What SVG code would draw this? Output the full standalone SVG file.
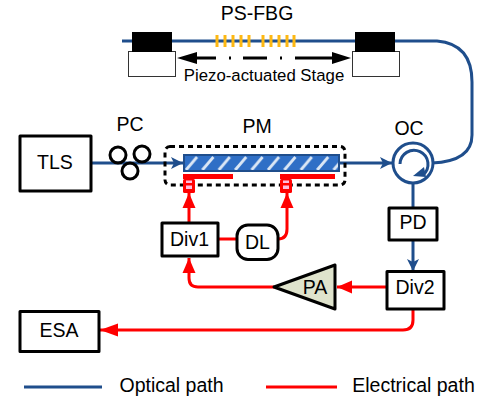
<svg xmlns="http://www.w3.org/2000/svg" width="485" height="403" viewBox="0 0 485 403">
<style>
text{font-family:"Liberation Sans",Arial,sans-serif;font-size:19.5px;fill:#000;text-anchor:middle}
.box{fill:#fff;stroke:#000;stroke-width:3;stroke-linejoin:round}
.opt{fill:none;stroke:#1f4e8c;stroke-width:3}
.ele{fill:none;stroke:#f00;stroke-width:3}
.stage{fill:#fff;stroke:#333;stroke-width:1}
.fbg{stroke:#fdb813;stroke-width:3}
.pc{fill:none;stroke:#000;stroke-width:3}
</style>
<defs>
<marker id="ab" markerUnits="userSpaceOnUse" markerWidth="14" markerHeight="14" refX="12" refY="7" orient="auto"><path d="M0 1L12 7L0 13L3 7Z" fill="#1f4e8c"/></marker>
<marker id="ar" markerUnits="userSpaceOnUse" markerWidth="16" markerHeight="14" refX="15" refY="7" orient="auto"><path d="M0 0.5L15 7L0 13.5Z" fill="#f00"/></marker>
<marker id="ar2" markerUnits="userSpaceOnUse" markerWidth="19" markerHeight="14" refX="18" refY="7" orient="auto"><path d="M0 0.5L18 7L0 13.5Z" fill="#f00"/></marker>
<pattern id="hatch" width="16.4" height="17" patternUnits="userSpaceOnUse" patternTransform="translate(184 154)"><rect width="16.4" height="17" fill="#2f6fc6"/><path d="M2 16L13 3" stroke="#dbe7f5" stroke-width="2.8"/></pattern>
</defs>
<g id="connectors">
<path class="opt" d="M122 41H437Q472 44 472 82V135C472 155 455 162 432 163"/>
<path class="opt" d="M91 163H183" marker-end="url(#ab)"/>
<path class="opt" d="M339 163H392" marker-end="url(#ab)"/>
<path class="opt" d="M413 183V208"/>
<path class="opt" d="M413 240V271" marker-end="url(#ab)"/>
<path class="ele" d="M387 287H337" marker-end="url(#ar)"/>
<path class="ele" d="M274 287H198Q189 287 189 278V258" marker-end="url(#ar)"/>
<path class="ele" d="M189 223V193" marker-end="url(#ar)"/>
<path class="ele" d="M218 239H237"/>
<path class="ele" d="M278 239Q287 239 287 229V193" marker-end="url(#ar)"/>
<path class="ele" d="M413 309V320Q413 330 403 330H100" marker-end="url(#ar2)"/>
</g>
<g id="stage-left"><rect class="stage" x="128.500" y="51.500" width="47" height="25"/><rect x="132" y="32" width="40" height="20" fill="#000"/></g>
<g id="stage-right"><rect class="stage" x="352.500" y="51.500" width="47" height="25"/><rect x="355" y="32" width="40" height="20" fill="#000"/></g>
<g id="ps-fbg">
<path class="fbg" d="M217 35V47M225 35V47M233 35V47M241 35V47M249 35V47M263 35V47M271 35V47M279 35V47M287 35V47M294 35V47"/>
<text x="257" y="20">PS-FBG</text>
</g>
<g id="stage-arrow">
<path d="M177 58L197 52V64Z M351 58L332 52V64Z" fill="#000"/>
<path d="M196 58H216M229 58H231M243 58H267M280 58H282M295 58H333" stroke="#000" stroke-width="3" fill="none"/>
<text x="264" y="81" style="font-size:16.800px">Piezo-actuated Stage</text>
</g>
<g id="tls"><rect class="box" x="20" y="136" width="71" height="55"/><text x="55" y="169">TLS</text></g>
<g id="pc">
<circle class="pc" cx="118" cy="155" r="8"/>
<circle class="pc" cx="142" cy="154" r="8"/>
<circle class="pc" cx="130" cy="171" r="8"/>
<text x="130" y="131">PC</text>
</g>
<g id="pm">
<rect x="165" y="146.500" width="180" height="38.500" rx="5" fill="none" stroke="#000" stroke-width="3" stroke-dasharray="5 4"/>
<rect x="184" y="155" width="155" height="16" fill="url(#hatch)" stroke="#1f4e8c" stroke-width="2"/>
<rect x="183" y="174" width="50" height="5" fill="#f00"/>
<rect x="280" y="174" width="55" height="5" fill="#f00"/>
<rect x="183" y="179" width="12" height="14" rx="1.500" fill="#f00"/>
<rect x="280" y="179" width="12" height="14" rx="1.500" fill="#f00"/>
<path d="M186 180.500H192V183H186ZM186 185.500H192V189H186ZM283 180.500H289V183H283ZM283 185.500H289V189H283Z" fill="#fbd"/>
<text x="257" y="133">PM</text>
</g>
<g id="oc">
<circle cx="413" cy="163" r="20" fill="#fff" stroke="#1f4e8c" stroke-width="3"/>
<path class="opt" d="M400 164A14 14 0 1 1 423 175"/>
<path d="M413 176L424 167L426 177Z" fill="#1f4e8c"/>
<text x="409" y="135">OC</text>
</g>
<g id="pd"><rect class="box" x="389" y="208" width="48" height="32"/><text x="413" y="229">PD</text></g>
<g id="div2"><rect class="box" x="387" y="271.500" width="57" height="37.500"/><text x="415" y="294">Div2</text></g>
<g id="pa"><path d="M274 287L335 265V309Z" fill="#dfe3cc" stroke="#000" stroke-width="3" stroke-linejoin="round"/><text x="315" y="294">PA</text></g>
<g id="div1"><rect class="box" x="162" y="223" width="56" height="33"/><text x="189.500" y="246">Div1</text></g>
<g id="dl"><rect class="box" x="237" y="225" width="41" height="34.500" rx="11"/><text x="257.500" y="249">DL</text></g>
<g id="esa"><rect class="box" x="20" y="311.500" width="79" height="40"/><text x="59" y="337">ESA</text></g>
<g id="legend">
<path class="opt" d="M24 387H102"/>
<path class="ele" d="M266 387H337"/>
<text x="171.500" y="392">Optical path</text>
<text x="413.500" y="392">Electrical path</text>
</g>
</svg>
